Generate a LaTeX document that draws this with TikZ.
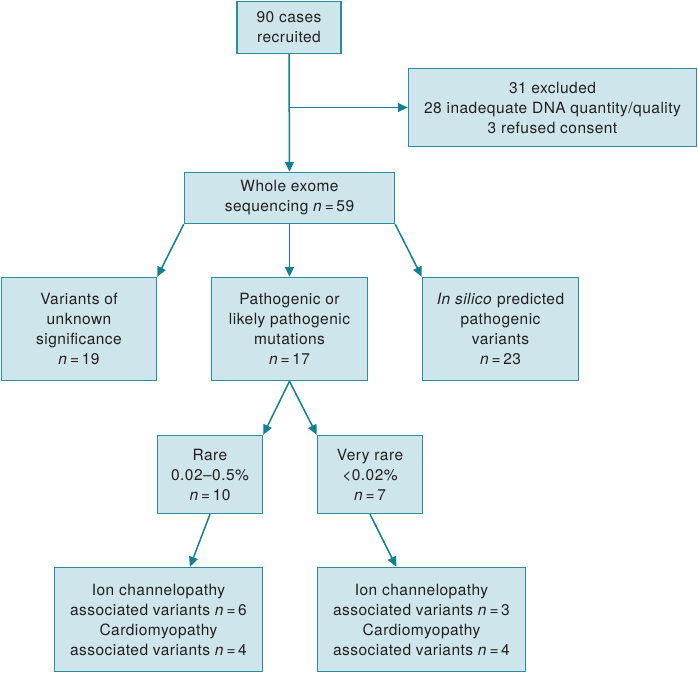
\documentclass[tikz,border=0pt]{standalone}
\usepackage{fontspec}
\setmainfont[LetterSpace=3]{TeX Gyre Heros}
\usetikzlibrary{arrows.meta}
\usetikzlibrary{calc}
\definecolor{boxfill}{HTML}{CEE6EB}
\definecolor{boxline}{HTML}{2A8D9B}
\definecolor{arrowc}{HTML}{12808F}
\definecolor{textc}{HTML}{231F20}
\tikzset{%
  box/.style = {rectangle,draw=boxline,fill=boxfill,line width=1.4pt,
        align=center,inner sep=0pt,text=textc,
        font=\fontsize{15.5}{20}\selectfont},
  sz/.style 2 args = {minimum width=#1,minimum height=#2},
  arr/.style = {-{Triangle[length=10pt,width=9pt]},draw=arrowc,line width=1.5pt}
}

\begin{document}
\begin{tikzpicture}[x=1pt,y=-1pt]
    \path[use as bounding box] (0,0) rectangle (698,673);
    % first row
    \node[box,sz={104}{52}] (rec) at (289,27.5) {90 cases\\recruited};
    \node[box,sz={288}{78}] (excl) at (552.5,107.5)
        {31 excluded\\28 inadequate DNA quantity/quality\\3 refused consent};
    \node[box,sz={210}{51}] (wes) at (289.5,198) {Whole exome\\sequencing \textit{n}\,=\,59};
    % second row
    \node[box,sz={155}{103}] (vus) at (79,329)
        {Variants of\\unknown\\significance\\\textit{n}\,=\,19};
    \node[box,sz={156}{103}] (patho) at (289.5,329)
        {Pathogenic or\\likely pathogenic\\mutations\\\textit{n}\,=\,17};
    \node[box,sz={156}{103}] (insil) at (500.5,329)
        {\textit{In silico} predicted\\pathogenic\\variants\\\textit{n}\,=\,23};
    % rarity
    \node[box,sz={105}{78}] (rare) at (210,474.5) {Rare\\0.02--0.5\%\\\textit{n}\,=\,10};
    \node[box,sz={105}{78}] (vrare) at (370,474.5) {Very rare\\<0.02\%\\\textit{n}\,=\,7};
    % bottom row
    \node[box,sz={208}{104}] (ionA) at (158.5,619.5)
        {Ion channelopathy\\associated variants \textit{n}\,=\,6\\Cardiomyopathy\\associated variants \textit{n}\,=\,4};
    \node[box,sz={208}{104}] (ionB) at (421.5,619.5)
        {Ion channelopathy\\associated variants \textit{n}\,=\,3\\Cardiomyopathy\\associated variants \textit{n}\,=\,4};

    \draw[arr] (rec.south) -- (wes.north);
    \coordinate (split) at (rec.south |- excl.west);
    \draw[arr] (split) -- (excl.west);
    \draw[arr] (wes.south west) -- (vus.north east);
    \draw[arr] (wes.south) -- (patho.north);
    \draw[arr] (wes.south east) -- (insil.north west);
    \draw[arr] (patho.south) -- (rare.north east);
    \draw[arr] (patho.south) -- (vrare.north west);
    \draw[arr] (rare.south) -- ($(ionA.north west)!0.65!(ionA.north east)$);
    \draw[arr] (vrare.south) -- ($(ionB.north west)!0.38!(ionB.north east)$);
\end{tikzpicture}
\end{document}
